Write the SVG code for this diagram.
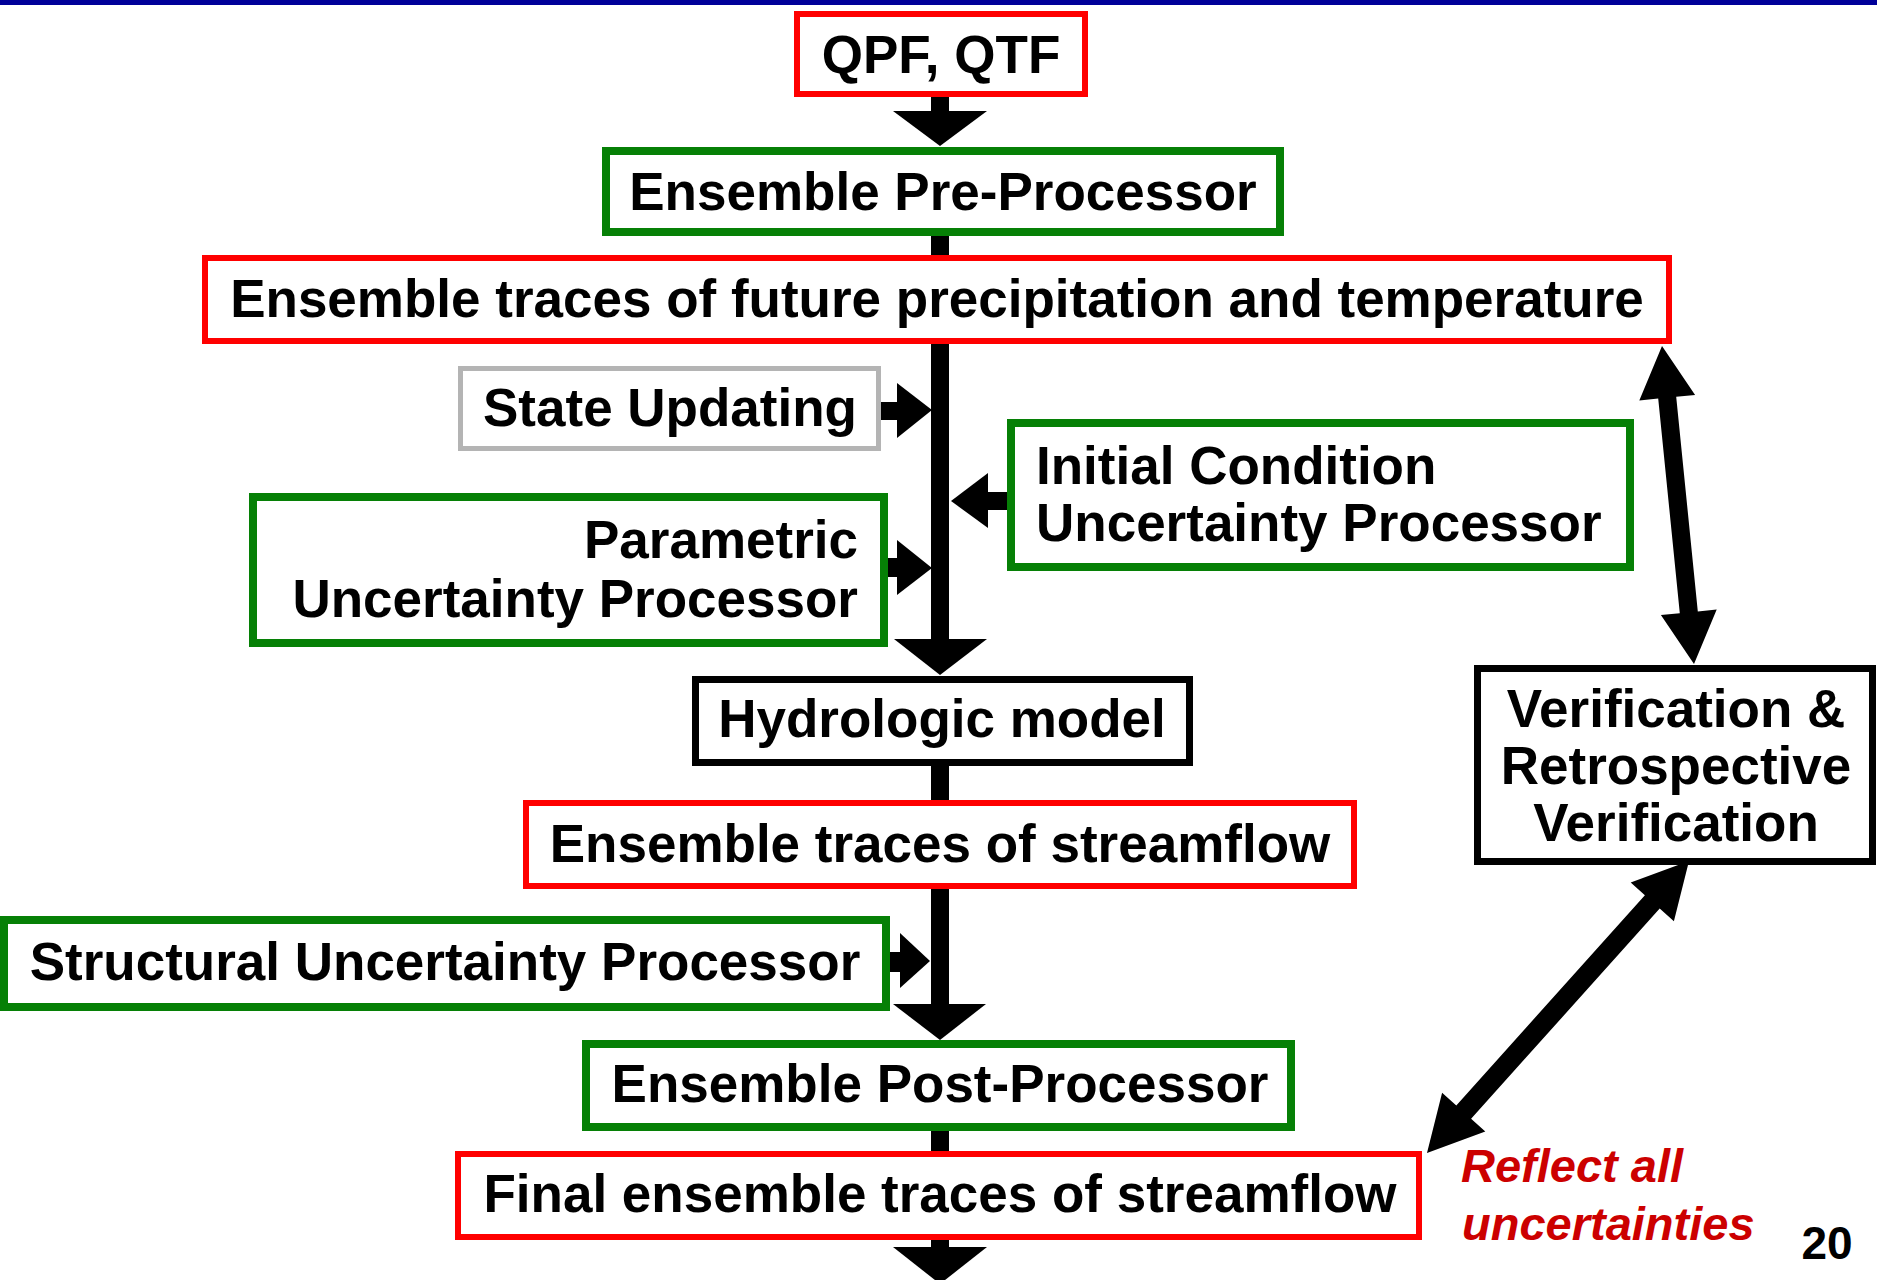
<svg xmlns="http://www.w3.org/2000/svg" width="1877" height="1280" viewBox="0 0 1877 1280">
<style>
  .box { fill: #ffffff; }
  .red { stroke: #ff0000; stroke-width: 6; }
  .green { stroke: #068006; stroke-width: 8; }
  .gray { stroke: #b4b4b4; stroke-width: 5; }
  .black { stroke: #000000; stroke-width: 7; }
  .t { font-family: "Liberation Sans", Arial, sans-serif; font-weight: bold; font-size: 53px; fill: #000000; }
  .c { text-anchor: middle; }
  .e { text-anchor: end; }
  .note { font-family: "Liberation Sans", Arial, sans-serif; font-weight: bold; font-style: italic; font-size: 47px; fill: #cc0000; }
  .conn { fill: #000000; }
</style>
<rect x="0" y="0" width="1877" height="1280" fill="#ffffff"/>
<rect x="0" y="0" width="1877" height="5" fill="#000099"/>

<g id="connectors" class="conn">
  <!-- QPF -> Pre-Processor -->
  <rect x="931" y="96" width="18" height="16"/>
  <polygon points="893,111 987,111 940,146"/>
  <!-- Pre-Processor -> traces -->
  <rect x="931" y="234" width="18" height="23"/>
  <!-- main trunk -->
  <rect x="931" y="342" width="18" height="298"/>
  <polygon points="894,639 987,639 940,675"/>
  <!-- State Updating -> trunk -->
  <rect x="878" y="402" width="20" height="18"/>
  <polygon points="897,383 897,438 932,410"/>
  <!-- Parametric -> trunk -->
  <rect x="886" y="558" width="12" height="19"/>
  <polygon points="897,540 897,595 932,568"/>
  <!-- Initial Condition -> trunk -->
  <rect x="986" y="492" width="22" height="18"/>
  <polygon points="988,473 988,528 951,501"/>
  <!-- Hydrologic -> streamflow -->
  <rect x="931" y="764" width="18" height="38"/>
  <!-- streamflow -> Post-Processor -->
  <rect x="931" y="887" width="18" height="118"/>
  <polygon points="893,1004 986,1004 940,1040"/>
  <!-- Structural -> trunk -->
  <rect x="890" y="952" width="11" height="20"/>
  <polygon points="900,933 900,988 930,961"/>
  <!-- Post-Processor -> Final -->
  <rect x="931" y="1129" width="18" height="24"/>
  <!-- Final -> out -->
  <rect x="931" y="1238" width="18" height="10"/>
  <polygon points="893,1247 987,1247 940,1284"/>
  <!-- traces <-> Verification -->
  <polygon points="1662,346 1695.1,394.9 1676.2,396.8 1697.8,611.4 1716.7,609.5 1694,664 1660.9,615.1 1679.8,613.2 1658.2,398.6 1639.3,400.5"/>
  <!-- Verification <-> Final -->
  <polygon points="1689,861 1673.9,921.3 1659.7,908.6 1471.1,1118.8 1485.3,1131.5 1427,1153 1442.1,1092.7 1456.3,1105.4 1644.9,895.2 1630.7,882.5"/>
</g>

<g id="qpf">
  <rect class="box red" x="797" y="14" width="288" height="80"/>
  <text class="t c" x="941" y="73">QPF, QTF</text>
</g>
<g id="pre-processor">
  <rect class="box green" x="606" y="151" width="674" height="81"/>
  <text class="t c" x="943" y="210">Ensemble Pre-Processor</text>
</g>
<g id="traces-future">
  <rect class="box red" x="205" y="258" width="1464" height="83"/>
  <text class="t c" x="937" y="317">Ensemble traces of future precipitation and temperature</text>
</g>
<g id="state-updating">
  <rect class="box gray" x="460.5" y="368.5" width="418" height="80"/>
  <text class="t c" x="670" y="426">State Updating</text>
</g>
<g id="parametric">
  <rect class="box green" x="253" y="497" width="631" height="146"/>
  <text class="t e" x="858" y="558">Parametric</text>
  <text class="t e" x="858" y="617">Uncertainty Processor</text>
</g>
<g id="initial-condition">
  <rect class="box green" x="1011" y="423" width="619" height="144"/>
  <text class="t" x="1036" y="484">Initial Condition</text>
  <text class="t" x="1036" y="541">Uncertainty Processor</text>
</g>
<g id="hydrologic">
  <rect class="box black" x="695.5" y="679.5" width="494" height="83"/>
  <text class="t c" x="942" y="737">Hydrologic model</text>
</g>
<g id="verification">
  <rect class="box black" x="1477.5" y="668.5" width="395" height="193"/>
  <text class="t c" x="1676" y="727">Verification &amp;</text>
  <text class="t c" x="1676" y="784">Retrospective</text>
  <text class="t c" x="1676" y="841">Verification</text>
</g>
<g id="traces-streamflow">
  <rect class="box red" x="526" y="803" width="828" height="83"/>
  <text class="t c" x="940" y="862">Ensemble traces of streamflow</text>
</g>
<g id="structural">
  <rect class="box green" x="4" y="920" width="882" height="87"/>
  <text class="t c" x="445" y="980">Structural Uncertainty Processor</text>
</g>
<g id="post-processor">
  <rect class="box green" x="586" y="1044" width="705" height="83"/>
  <text class="t c" x="940" y="1102">Ensemble Post-Processor</text>
</g>
<g id="final">
  <rect class="box red" x="458" y="1154" width="961" height="83"/>
  <text class="t c" x="940" y="1212">Final ensemble traces of streamflow</text>
</g>
<g id="note">
  <text class="note" x="1461" y="1182">Reflect all</text>
  <text class="note" x="1462" y="1240">uncertainties</text>
</g>
<text x="1827" y="1259" font-family="Liberation Sans, Arial, sans-serif" font-weight="bold" font-size="46" text-anchor="middle" fill="#000000">20</text>
</svg>
